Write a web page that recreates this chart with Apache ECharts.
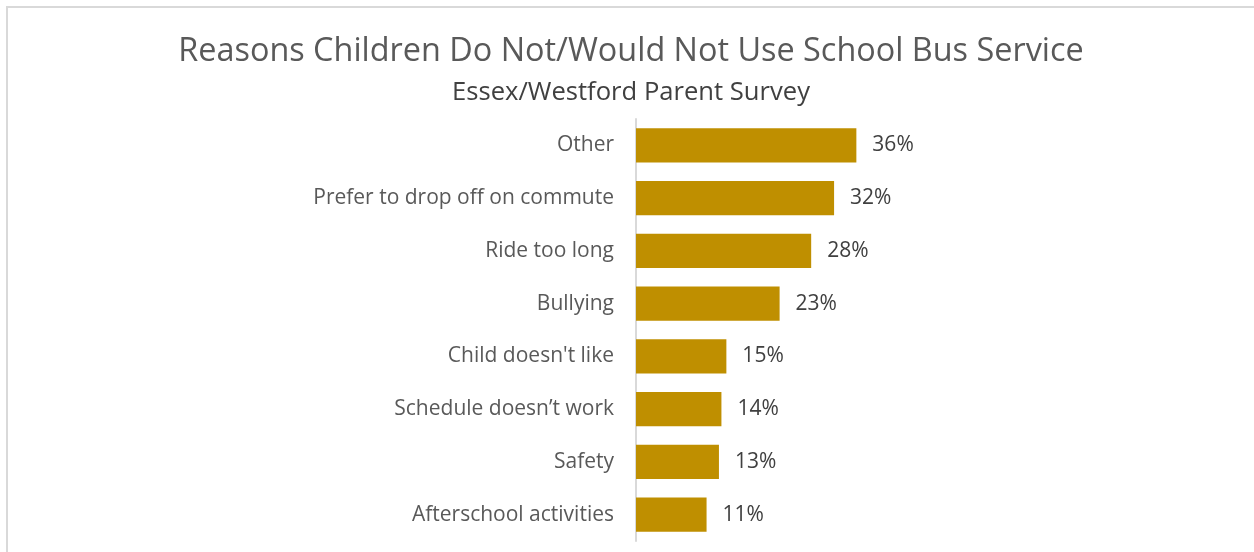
<!DOCTYPE html>
<html>
<head>
<meta charset="utf-8">
<script src="https://cdn.jsdelivr.net/npm/echarts@6/dist/echarts.min.js"></script>
<style>
html,body{margin:0;padding:0;background:#fff;}
#chart{width:1254px;height:552px;}
</style>
</head>
<body>
<div id="chart"></div>
<script>
var titleText = 'Reasons Children Do Not/Would Not Use School Bus Service';
var subtitleText = 'Essex/Westford Parent Survey';
var categories = ['Other', 'Prefer to drop off on commute', 'Ride too long', 'Bullying', "Child doesn't like", 'Schedule doesn\u2019t work', 'Safety', 'Afterschool activities'];
var values = [35.6, 32.0, 28.3, 23.2, 14.6, 13.8, 13.4, 11.4];

var font = 'Open Sans';
var chart = echarts.init(document.getElementById('chart'));
chart.setOption({
  backgroundColor: '#ffffff',
  animation: false,
  title: [
    {text: titleText, left: 626, top: 31, textAlign: 'center',
     textStyle: {fontFamily: font, fontSize: 32.4, fontWeight: 'normal', color: '#595959'}},
    {text: subtitleText, left: 626, top: 75, textAlign: 'center',
     textStyle: {fontFamily: font, fontSize: 25.6, fontWeight: 'normal', color: '#404040'}}
  ],
  graphic: [
    {type: 'line', shape: {x1: 6, y1: 7, x2: 1254, y2: 7}, style: {stroke: '#d9d9d9', lineWidth: 2}, silent: true},
    {type: 'line', shape: {x1: 7, y1: 6, x2: 7, y2: 552}, style: {stroke: '#d9d9d9', lineWidth: 2}, silent: true}
  ],
  grid: {left: 636, top: 119, width: 309.5, height: 422, containLabel: false},
  xAxis: {
    type: 'value', min: 0, max: 50,
    show: false
  },
  yAxis: {
    type: 'category', inverse: true, data: categories,
    axisLine: {show: true, lineStyle: {color: '#d9d9d9', width: 2}},
    axisTick: {show: false},
    axisLabel: {margin: 22, fontFamily: font, fontSize: 21, color: '#595959'}
  },
  series: [{
    type: 'bar', data: values, barCategoryGap: '35%',
    itemStyle: {color: '#BF8F00'},
    label: {show: true, position: 'right', distance: 16, fontFamily: font, fontSize: 21, color: '#404040',
      formatter: function(p){ return Math.round(p.value) + '%'; }}
  }]
});
</script>
</body>
</html>
